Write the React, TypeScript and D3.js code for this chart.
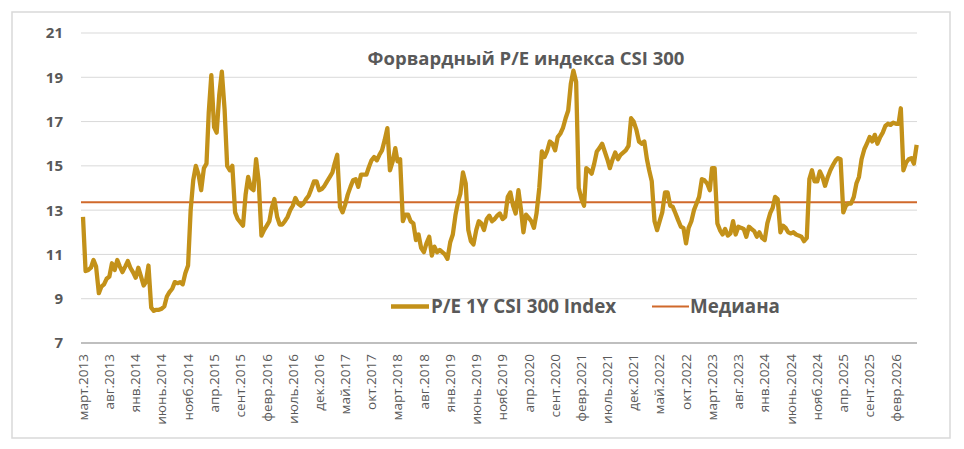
import * as d3 from "d3";

// Forward P/E, half-month samples (1st and 16th of each month)
const pe2013 = [12.7, 10.25, 10.3, 10.4, 10.75, 10.45, 9.25, 9.55, 9.65, 9.9, 10.0, 10.6, 10.3, 10.75, 10.45, 10.2, 10.45, 10.7, 10.4, 10.2];
const pe2014 = [9.95, 10.4, 10.0, 9.6, 9.75, 10.5, 8.6, 8.45, 8.5, 8.5, 8.55, 8.65, 9.1, 9.3, 9.45, 9.75, 9.7, 9.75, 9.65, 10.15, 10.5, 13.0, 14.35, 15.0];
const pe2015 = [14.6, 13.9, 14.9, 15.1, 17.4, 19.1, 16.75, 16.5, 18.2, 19.25, 17.55, 15.0, 14.8, 15.0, 12.9, 12.6, 12.45, 12.3, 13.7, 14.5, 14.0, 13.9, 15.3, 14.3];
const pe2016 = [11.85, 12.1, 12.3, 12.5, 13.1, 13.5, 12.7, 12.35, 12.35, 12.5, 12.7, 13.0, 13.2, 13.55, 13.3, 13.2, 13.3, 13.5, 13.65, 13.95, 14.3, 14.3, 13.9, 13.95];
const pe2017 = [14.1, 14.3, 14.5, 14.7, 15.1, 15.5, 13.15, 12.9, 13.25, 13.7, 14.05, 14.35, 14.4, 14.05, 14.6, 14.6, 14.6, 14.95, 15.25, 15.4, 15.25, 15.5, 15.7, 16.15];
const pe2018 = [16.7, 14.8, 15.2, 15.8, 15.2, 15.3, 12.5, 12.8, 12.8, 12.5, 12.4, 11.65, 11.9, 11.3, 11.1, 11.5, 11.8, 10.95, 11.35, 11.1, 11.2, 11.1, 11.0, 10.8];
const pe2019 = [11.55, 11.9, 12.8, 13.4, 13.75, 14.7, 14.2, 12.1, 11.6, 11.45, 12.1, 12.5, 12.4, 12.1, 12.6, 12.75, 12.5, 12.6, 12.75, 12.85, 12.6, 12.7, 13.6, 13.8];
const pe2020 = [13.2, 12.85, 13.9, 13.0, 12.0, 12.8, 12.65, 12.5, 12.2, 12.85, 14.0, 15.65, 15.4, 15.65, 16.1, 16.0, 15.7, 16.3, 16.45, 16.7, 17.15, 17.5, 18.7, 19.3];
const pe2021 = [18.8, 14.0, 13.5, 13.2, 14.9, 14.8, 14.65, 15.1, 15.65, 15.8, 16.0, 15.65, 15.3, 14.9, 15.3, 15.6, 15.3, 15.5, 15.6, 15.7, 15.9, 17.15, 17.0, 16.65];
const pe2022 = [16.1, 16.0, 16.1, 15.3, 14.8, 14.3, 12.5, 12.1, 12.5, 12.9, 13.8, 13.8, 13.2, 13.15, 12.85, 12.55, 12.25, 12.2, 11.5, 12.2, 12.5, 13.0, 13.3, 13.6];
const pe2023 = [14.4, 14.35, 14.2, 13.9, 14.9, 14.9, 12.4, 12.1, 11.9, 12.15, 11.85, 11.95, 12.5, 11.9, 12.25, 12.2, 12.15, 11.8, 12.25, 12.15, 12.05, 11.8, 12.0, 11.75];
const pe2024 = [11.65, 12.4, 12.85, 13.1, 13.6, 13.5, 12.0, 12.3, 12.2, 12.0, 11.95, 12.0, 11.9, 11.85, 11.8, 11.6, 11.75, 14.4, 14.8, 14.3, 14.3, 14.75, 14.5, 14.1];
const pe2025 = [14.5, 14.8, 15.05, 15.25, 15.35, 15.3, 12.9, 13.2, 13.3, 13.3, 13.6, 14.2, 14.5, 15.3, 15.75, 16.0, 16.3, 16.1, 16.4, 16.0, 16.3, 16.5, 16.8, 16.9];
const pe2026 = [16.85, 16.95, 16.9, 16.9, 17.6, 14.8, 15.15, 15.3, 15.35, 15.1, 15.95];

// [year, first month index, values]
const years: [number, number, number[]][] = [
  [2013, 2, pe2013], [2014, 0, pe2014], [2015, 0, pe2015], [2016, 0, pe2016],
  [2017, 0, pe2017], [2018, 0, pe2018], [2019, 0, pe2019], [2020, 0, pe2020],
  [2021, 0, pe2021], [2022, 0, pe2022], [2023, 0, pe2023], [2024, 0, pe2024],
  [2025, 0, pe2025], [2026, 0, pe2026],
];

const median = 13.36;

const yTicks = [7, 9, 11, 13, 15, 17, 19, 21];

const xLabels = [
  "март.2013", "авг.2013", "янв.2014", "июнь.2014", "нояб.2014", "апр.2015", "сент.2015", "февр.2016",
  "июль.2016", "дек.2016", "май.2017", "окт.2017", "март.2018", "авг.2018", "янв.2019", "июнь.2019",
  "нояб.2019", "апр.2020", "сент.2020", "февр.2021", "июль.2021", "дек.2021", "май.2022", "окт.2022",
  "март.2023", "авг.2023", "янв.2024", "июнь.2024", "нояб.2024", "апр.2025", "сент.2025", "февр.2026",
];

const title = "Форвардный P/E индекса CSI 300";
const seriesName = "P/E 1Y CSI 300 Index";
const medianName = "Медиана";

const gold = "#C39119";
const orange = "#D0692B";
const textColor = "#595959";
const font = "'Open Sans', sans-serif";

export default function App() {
  const width = 964;
  const height = 449;
  const left = 81;
  const right = 917;

  const points = years.flatMap(([yr, m0, vals]) =>
    vals.map((v, i) => ({ date: new Date(yr, m0 + Math.floor(i / 2), i % 2 ? 16 : 1), value: v }))
  );

  const x = d3.scaleTime([new Date(2013, 2, 1), new Date(2026, 1, 1)], [83, 896]);
  const y = d3.scaleLinear([7, 21], [343, 33]);

  const line = d3
    .line<{ date: Date; value: number }>()
    .x((d) => x(d.date))
    .y((d) => y(d.value));

  const tickDates = xLabels.map((_, i) => new Date(2013, 2 + i * 5, 1));

  return (
    <svg width={width} height={height} style={{ position: "absolute", left: 0, top: 0, background: "#fff" }}>
      <rect x={12} y={12} width={938} height={426} fill="#fff" stroke="#d9d9d9" strokeWidth={1.5} />
      {yTicks.slice(1).map((t) => (
        <line key={t} x1={left} x2={right} y1={y(t)} y2={y(t)} stroke="#d9d9d9" strokeWidth={1} />
      ))}
      <line x1={left} x2={right} y1={y(7)} y2={y(7)} stroke="#bfbfbf" strokeWidth={2} />
      <g fontFamily={font} fontWeight="bold" fontSize={15} fill={textColor} textAnchor="end">
        {yTicks.map((t) => (
          <text key={t} x={63} y={y(t)} dy="0.36em">{t}</text>
        ))}
      </g>
      <g fontFamily={font} fontSize={13.5} fill={textColor}>
        {xLabels.map((l, i) => (
          <text key={l} transform={`translate(${x(tickDates[i])},354) rotate(-90)`} textAnchor="end" dy="0.35em">
            {l}
          </text>
        ))}
      </g>
      <line x1={left} x2={right} y1={y(median)} y2={y(median)} stroke={orange} strokeWidth={2} />
      <path d={line(points)} fill="none" stroke={gold} strokeWidth={4.3} strokeLinejoin="round" />
      <text x={526} y={65} textAnchor="middle" fontFamily={font} fontWeight="bold" fontSize={18.5} fill={textColor}>
        {title}
      </text>
      <g fontFamily={font} fontWeight="bold" fontSize={18.8} fill={textColor}>
        <line x1={391} x2={429} y1={306.5} y2={306.5} stroke={gold} strokeWidth={4.3} />
        <text x={431} y={313}>{seriesName}</text>
        <line x1={652} x2={689} y1={306.5} y2={306.5} stroke={orange} strokeWidth={2} />
        <text x={690} y={313}>{medianName}</text>
      </g>
    </svg>
  );
}
